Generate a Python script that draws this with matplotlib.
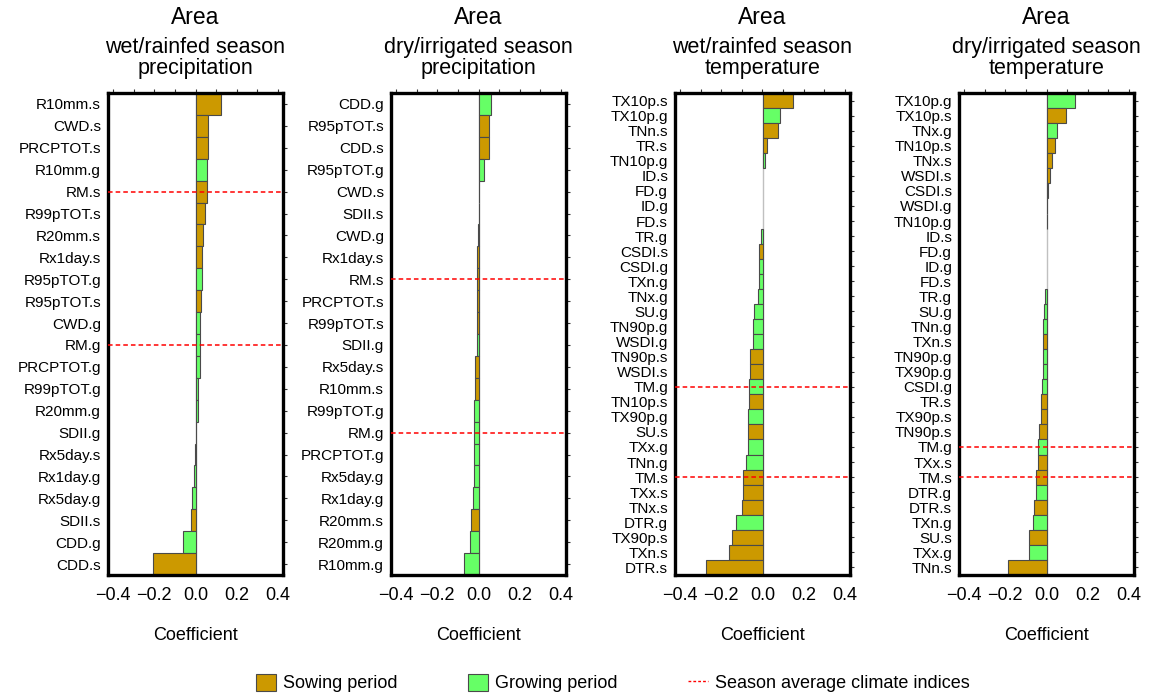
import matplotlib
matplotlib.use("Agg")
import matplotlib.pyplot as plt
from matplotlib.patches import Patch
from matplotlib.lines import Line2D

plt.rcParams['font.family'] = ['Liberation Sans', 'DejaVu Sans']

# ---------------- data ----------------
p1_labels = ["R10mm.s", "CWD.s", "PRCPTOT.s", "R10mm.g", "RM.s", "R99pTOT.s", "R20mm.s",
             "Rx1day.s", "R95pTOT.g", "R95pTOT.s", "CWD.g", "RM.g", "PRCPTOT.g", "R99pTOT.g",
             "R20mm.g", "SDII.g", "Rx5day.s", "Rx1day.g", "Rx5day.g", "SDII.s", "CDD.g", "CDD.s"]
p1_values = [0.123, 0.061, 0.059, 0.056, 0.054, 0.046, 0.038, 0.032, 0.030, 0.027, 0.022,
             0.022, 0.022, 0.011, 0.010, 0.003, -0.001, -0.008, -0.019, -0.024, -0.062, -0.208]

p2_labels = ["CDD.g", "R95pTOT.s", "CDD.s", "R95pTOT.g", "CWD.s", "SDII.s", "CWD.g", "Rx1day.s",
             "RM.s", "PRCPTOT.s", "R99pTOT.s", "SDII.g", "Rx5day.s", "R10mm.s", "R99pTOT.g",
             "RM.g", "PRCPTOT.g", "Rx5day.g", "Rx1day.g", "R20mm.s", "R20mm.g", "R10mm.g"]
p2_values = [0.061, 0.050, 0.049, 0.026, 0.003, 0.0005, -0.001, -0.005, -0.006, -0.007, -0.008,
             -0.008, -0.016, -0.017, -0.020, -0.023, -0.024, -0.024, -0.025, -0.035, -0.043, -0.072]

p3_labels = ["TX10p.s", "TX10p.g", "TNn.s", "TR.s", "TN10p.g", "ID.s", "FD.g", "ID.g", "FD.s",
             "TR.g", "CSDI.s", "CSDI.g", "TXn.g", "TNx.g", "SU.g", "TN90p.g", "WSDI.g", "TN90p.s",
             "WSDI.s", "TM.g", "TN10p.s", "TX90p.g", "SU.s", "TXx.g", "TNn.g", "TM.s", "TXx.s",
             "TNx.s", "DTR.g", "TX90p.s", "TXn.s", "DTR.s"]
p3_values = [0.150, 0.085, 0.074, 0.023, 0.010, 0.0, 0.0, 0.0, 0.0, -0.005, -0.018, -0.016,
             -0.018, -0.023, -0.039, -0.045, -0.045, -0.061, -0.063, -0.065, -0.068, -0.069,
             -0.071, -0.071, -0.082, -0.095, -0.097, -0.100, -0.129, -0.148, -0.165, -0.273]

p4_labels = ["TX10p.g", "TX10p.s", "TNx.g", "TN10p.s", "TNx.s", "WSDI.s", "CSDI.s", "WSDI.g",
             "TN10p.g", "ID.s", "FD.g", "ID.g", "FD.s", "TR.g", "SU.g", "TNn.g", "TXn.s",
             "TN90p.g", "TX90p.g", "CSDI.g", "TR.s", "TX90p.s", "TN90p.s", "TM.g", "TXx.s",
             "TM.s", "DTR.g", "DTR.s", "TXn.g", "SU.s", "TXx.g", "TNn.s"]
p4_values = [0.137, 0.094, 0.050, 0.040, 0.026, 0.015, 0.006, 0.002, 0.001, 0.0, 0.0, 0.0, 0.0,
             -0.006, -0.010, -0.015, -0.016, -0.019, -0.019, -0.023, -0.027, -0.028, -0.035,
             -0.039, -0.039, -0.050, -0.053, -0.063, -0.066, -0.084, -0.084, -0.185]

titles = [("Area", "wet/rainfed season\nprecipitation"),
          ("Area", "dry/irrigated season\nprecipitation"),
          ("Area", "wet/rainfed season\ntemperature"),
          ("Area", "dry/irrigated season\ntemperature")]
avg_indices = [["RM.s", "RM.g"], ["RM.s", "RM.g"], ["TM.g", "TM.s"], ["TM.g", "TM.s"]]

xticks = [-0.4, -0.2, 0.0, 0.2, 0.4]
minor_ticks = [-0.4, -0.3, -0.2, -0.1, 0.0, 0.1, 0.2, 0.3, 0.4]

SOW = "#CC9900"
GROW = "#66FF66"

panels = [(p1_labels, p1_values), (p2_labels, p2_values),
          (p3_labels, p3_values), (p4_labels, p4_values)]

fig = plt.figure(figsize=(11.57, 6.98), dpi=100)
lefts = [108, 391, 675, 959]
W, H = 1157, 698
for i, ((labels, values), left) in enumerate(zip(panels, lefts)):
    ax = fig.add_axes([left / W, 1 - 575 / H, 175 / W, (575 - 93) / H])
    n = len(labels)
    ypos = list(range(n))
    colors = [SOW if lab.endswith(".s") else GROW for lab in labels]
    lws = [0.8 if v != 0 else 0.0 for v in values]
    ax.axvline(0, color="#c0c0c0", lw=1.0, zorder=1)
    ax.barh(ypos, values, height=1.0, color=colors, edgecolor="#4a4a4a", linewidth=lws, zorder=2)
    for lab in avg_indices[i]:
        if lab in labels:
            ax.axhline(labels.index(lab), color="red", ls=(0, (3, 2)), lw=1.1, zorder=3)
    ax.set_ylim(n - 0.5, -0.5)
    ax.set_xlim(-0.425, 0.425)
    ax.set_yticks(ypos)
    ax.set_yticklabels(labels, fontsize=11)
    ax.set_xticks(xticks)
    ax.set_xticklabels([f"{t:.1f}".replace("-", "\u2212") for t in xticks], fontsize=13)
    ax.tick_params(axis="y", which="both", left=False, right=True, direction="out",
                   length=3, width=0.8, pad=2, color="#333333")
    ax.tick_params(axis="x", bottom=False, pad=5)
    sec = ax.secondary_xaxis("top")
    sec.set_xticks(minor_ticks)
    sec.set_xticklabels([])
    sec.tick_params(direction="out", length=3, width=0.8, color="#333333")
    sec.spines["top"].set_visible(False)
    for s in ax.spines.values():
        s.set_linewidth(2.4)
        s.set_color("black")
    ax.set_xlabel("Coefficient", fontsize=13, labelpad=17)
    cx = (left + 87.5) / W
    fig.text(cx, 1 - 17 / H, titles[i][0], ha="center", va="center", fontsize=16.5)
    fig.text(cx, 1 - 58 / H, titles[i][1], ha="center", va="center", fontsize=15.5,
             linespacing=1.0)

handles = [Patch(facecolor=SOW, edgecolor="#4a4a4a", linewidth=0.8),
           Patch(facecolor=GROW, edgecolor="#4a4a4a", linewidth=0.8),
           Line2D([0], [0], color="red", ls=(0, (2, 1.5)), lw=1.0)]
fig.legend(handles, ["Sowing period", "Growing period", "Season average climate indices"],
           loc="center", bbox_to_anchor=(613 / W, 1 - 683 / H), ncol=3, frameon=False,
           fontsize=13, handlelength=1.1, handleheight=1.1, columnspacing=3.9,
           handletextpad=0.4, borderpad=0.2)

fig.savefig("out.png", dpi=100)
